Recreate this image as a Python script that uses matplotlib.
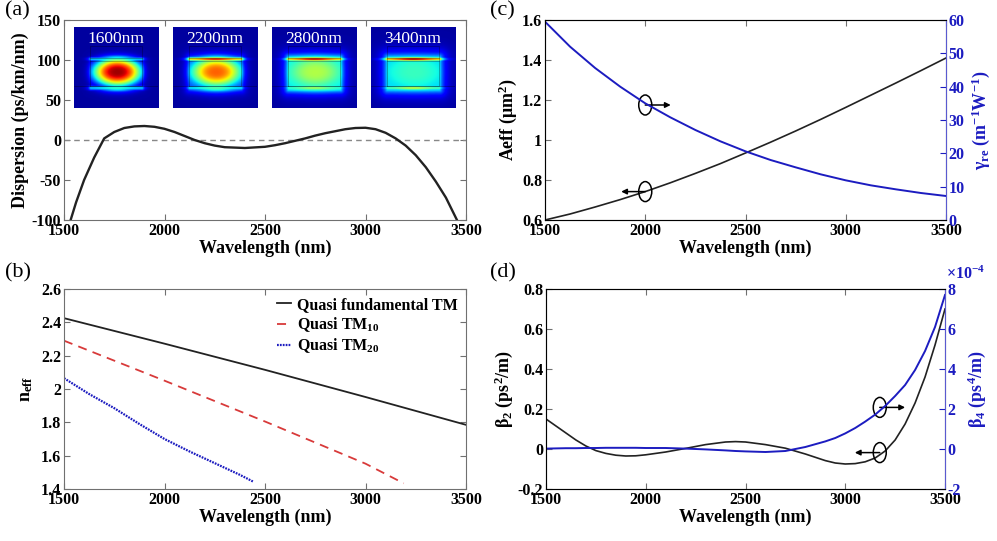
import numpy as np
import matplotlib.pyplot as plt
from matplotlib.patches import Ellipse

plt.rcParams['font.family'] = 'Liberation Serif'
plt.rcParams['font.weight'] = 'bold'
plt.rcParams['axes.labelweight'] = 'bold'
plt.rcParams['axes.unicode_minus'] = False
plt.rcParams['mathtext.fontset'] = 'custom'
plt.rcParams['mathtext.rm'] = 'Liberation Serif:bold'
plt.rcParams['mathtext.it'] = 'Liberation Serif:bold'
plt.rcParams['mathtext.bf'] = 'Liberation Serif:bold'

BLUE = '#1c1cc0'
BLACK = '#222222'
RED = '#d83a3a'
SPINE = '#707070'

# (a) dispersion
wl_a = [1533, 1560, 1600, 1650, 1700, 1750, 1800, 1850, 1900, 1950, 2000, 2050,
        2100, 2150, 2200, 2250, 2300, 2400, 2500, 2550, 2600, 2650, 2700, 2750,
        2800, 2850, 2900, 2950, 3000, 3050, 3100, 3150, 3200, 3250, 3300, 3350,
        3400, 3455]
disp = [-100, -78, -50, -22, 2, 10, 15, 17, 17.5, 16.5, 14, 10,
        5, 0, -4, -7, -9, -10, -8.5, -6.5, -4, -1, 2, 5.5,
        8.5, 11, 13.5, 15, 15.3, 13.5, 9, 2, -7, -19, -34, -52,
        -72, -100]

# mode profile insets
mode_labels = ['1600nm', '2200nm', '2800nm', '3400nm']
core_amp = [0.97, 0.80, 0.55, 0.40]
core_flat = [0.0, 0.2, 0.6, 0.8]
slot_amp = [0.42, 0.92, 0.97, 1.0]
sub_amp = [0.40, 0.45, 0.55, 0.58]
decay = [0.03, 0.04, 0.05, 0.06]

# (b) effective index
wl_b = [1500, 2000, 2500, 3000, 3500]
n_fund = [2.425, 2.272, 2.115, 1.952, 1.785]
wl_tm10 = [1500, 2000, 2500, 3000, 3190]
n_tm10 = [2.29, 2.05, 1.805, 1.552, 1.434]
wl_tm20 = [1500, 1625, 1750, 1875, 2000, 2125, 2250, 2375, 2440]
n_tm20 = [2.065, 1.97, 1.885, 1.79, 1.70, 1.625, 1.555, 1.485, 1.445]

# (c) effective area and nonlinear coefficient
wl_c = [1500, 1625, 1750, 1875, 2000, 2125, 2250, 2375, 2500, 2625, 2750,
        2875, 3000, 3125, 3250, 3375, 3500]
aeff = [0.6, 0.63, 0.665, 0.702, 0.742, 0.786, 0.833, 0.882, 0.935, 0.989,
        1.045, 1.103, 1.163, 1.224, 1.285, 1.347, 1.41]
gamma = [59.5, 52, 45.6, 40, 35, 30.8, 27, 23.6, 20.6, 18, 15.8,
         13.7, 11.9, 10.4, 9.2, 8.1, 7.2]

# (d) beta2 and beta4
wl_d = [1500, 1550, 1600, 1650, 1700, 1750, 1800, 1850, 1900, 1950, 2000,
        2100, 2200, 2300, 2400, 2450, 2500, 2600, 2700, 2800, 2900, 2950,
        3000, 3050, 3100, 3150, 3200, 3250, 3300, 3350, 3400, 3450, 3500]
beta2 = [0.15, 0.115, 0.08, 0.045, 0.015, -0.008, -0.022, -0.031, -0.035, -0.034, -0.029,
         -0.015, 0.003, 0.022, 0.035, 0.037, 0.035, 0.022, 0.004, -0.025, -0.058, -0.07,
         -0.075, -0.073, -0.064, -0.045, -0.01, 0.045, 0.125, 0.23, 0.36, 0.52, 0.70]
beta4 = [0.02, 0.03, 0.04, 0.04, 0.05, 0.05, 0.06, 0.06, 0.06, 0.06, 0.05,
         0.05, 0.02, -0.02, -0.07, -0.1, -0.12, -0.15, -0.1, 0.1, 0.38, 0.55,
         0.78, 1.05, 1.37, 1.72, 2.15, 2.65, 3.2, 3.95, 4.9, 6.1, 7.7]
beta4 = [b * 1e-4 for b in beta4]


def mode_field(i, n=120):
    x = np.linspace(0, 1, n)
    X, Y = np.meshgrid(x, x)
    bx0, bx1, by0, by1 = 0.19, 0.81, 0.38, 0.73
    Xc = np.clip(X, bx0, bx1)
    Yc = np.clip(Y, by0, by1)
    r2 = ((Xc - 0.51) / 0.28) ** 2 + ((Yc - 0.555) / 0.17) ** 2
    g = np.exp(-r2 ** 1.4)
    core = core_amp[i] * (core_flat[i] + (1 - core_flat[i]) * g)
    prof = 0.7 + 0.3 * np.exp(-((Xc - 0.5) / 0.2) ** 2)
    slot = slot_amp[i] * prof * np.exp(-((Y - 0.395) / 0.024) ** 2)
    sub = sub_amp[i] * prof * np.exp(-((Y - 0.755) / 0.03) ** 2)
    f = np.maximum(core, slot)
    f = np.maximum(f, sub)
    dx = np.abs(X - Xc)
    dy = np.abs(Y - np.clip(Y, 0.37, 0.78))
    f = f * np.exp(-np.sqrt(dx ** 2 + dy ** 2) / decay[i])
    return 0.03 + 0.97 * f


fig = plt.figure(figsize=(9.97, 5.41), dpi=100)
axa = fig.add_axes([64 / 997, 1 - 220 / 541, 402 / 997, 200 / 541])
axb = fig.add_axes([64 / 997, 1 - 489 / 541, 402 / 997, 200 / 541])
axc = fig.add_axes([545 / 997, 1 - 220 / 541, 401 / 997, 200 / 541])
axd = fig.add_axes([546 / 997, 1 - 489 / 541, 399 / 997, 200 / 541])

TICK = 11.5
LAB = 13


def style(ax, right=True):
    for s in ax.spines.values():
        s.set_color(SPINE)
        s.set_linewidth(0.8)
    ax.tick_params(direction='in', top=True, right=right, labelsize=TICK,
                   length=4, color=SPINE, pad=2)
    ax.set_xlim(1500, 3500)
    ax.set_xticks([1500, 2000, 2500, 3000, 3500])
    ax.set_xlabel('Wavelength (nm)', fontsize=LAB, labelpad=1)


# (a)
style(axa)
axa.axhline(0, color='#888888', lw=1, ls=(0, (4, 3)))
axa.plot(wl_a, disp, color=BLACK, lw=1.7)
axa.set_ylim(-100, 150)
axa.set_yticks([-100, -50, 0, 50, 100, 150])
axa.set_ylabel('Dispersion (ps/km/nm)', fontsize=LAB, labelpad=2)
for i, lab in enumerate(mode_labels):
    x0 = 1550 + i * 492
    ins = axa.inset_axes([x0, 40, 418, 101], transform=axa.transData)
    ins.imshow(mode_field(i), cmap='jet', vmin=0, vmax=1, extent=[0, 1, 1, 0],
               aspect='auto', interpolation='bilinear')
    ins.plot([0.19, 0.81, 0.81, 0.19, 0.19], [0.73, 0.73, 0.23, 0.23, 0.73],
             color='k', lw=0.4, alpha=0.5)
    ins.plot([0.19, 0.81], [0.375, 0.375], color='k', lw=0.4, alpha=0.5)
    ins.plot([0.19, 0.81], [0.415, 0.415], color='k', lw=0.4, alpha=0.5)
    ins.plot([0, 1], [0.73, 0.73], color='k', lw=0.4, alpha=0.5)
    ins.set_xlim(0, 1)
    ins.set_ylim(1, 0)
    ins.set_xticks([])
    ins.set_yticks([])
    for s in ins.spines.values():
        s.set_visible(False)
    ins.text(0.5, 0.86, lab, color='white', fontsize=12.5, fontweight='normal',
             ha='center', va='center', transform=ins.transAxes)

# (b)
style(axb)
axb.plot(wl_b, n_fund, color=BLACK, lw=1.3, label='Quasi fundamental TM')
axb.plot(wl_tm10, n_tm10, color=RED, lw=1.3, dashes=(5, 3.5), label='Quasi TM$_{10}$')
axb.plot(wl_tm20, n_tm20, color=BLUE, lw=1.6, dashes=(0.8, 0.5), label='Quasi TM$_{20}$')
axb.set_ylim(1.4, 2.6)
axb.set_yticks([1.4, 1.6, 1.8, 2.0, 2.2, 2.4, 2.6])
axb.set_yticklabels(['1.4', '1.6', '1.8', '2', '2.2', '2.4', '2.6'])
axb.set_ylabel('n$_{eff}$', fontsize=LAB, labelpad=4)
axb.legend(loc='upper right', frameon=False, fontsize=11.5, handlelength=0.9,
           handletextpad=0.4, labelspacing=0.15, borderaxespad=0.1,
           bbox_to_anchor=(1.0, 1.0))

# (c)
style(axc, right=False)
axc.plot(wl_c, aeff, color=BLACK, lw=1.2)
axc.set_ylim(0.6, 1.6)
axc.set_yticks([0.6, 0.8, 1.0, 1.2, 1.4, 1.6])
axc.set_yticklabels(['0.6', '0.8', '1', '1.2', '1.4', '1.6'])
axc.set_ylabel('Aeff (μm$^2$)', fontsize=LAB, labelpad=2)
axc2 = axc.twinx()
axc2.plot(wl_c, gamma, color=BLUE, lw=1.4)
axc2.set_ylim(0, 60)
axc2.set_yticks([0, 10, 20, 30, 40, 50, 60])
axc2.tick_params(direction='in', labelsize=TICK, colors=BLUE, length=4, pad=2)
axc2.spines['right'].set_color('#5a5ad0')
axc2.set_ylabel('γ$_{re}$ (m$^{-1}$W$^{-1}$)', fontsize=LAB, color=BLUE, labelpad=3)

# (d)
style(axd, right=False)
axd.plot(wl_d, beta2, color=BLACK, lw=1.2)
axd.set_ylim(-0.2, 0.8)
axd.set_yticks([-0.2, 0, 0.2, 0.4, 0.6, 0.8])
axd.set_yticklabels(['-0.2', '0', '0.2', '0.4', '0.6', '0.8'])
axd.set_ylabel('β$_2$ (ps$^2$/m)', fontsize=LAB, labelpad=2)
axd2 = axd.twinx()
axd2.plot(wl_d, beta4, color=BLUE, lw=1.4)
axd2.set_ylim(-2e-4, 8e-4)
axd2.set_yticks([-2e-4, 0, 2e-4, 4e-4, 6e-4, 8e-4])
axd2.set_yticklabels(['-2', '0', '2', '4', '6', '8'])
axd2.tick_params(direction='in', labelsize=TICK, colors=BLUE, length=4, pad=2)
axd2.spines['right'].set_color('#5a5ad0')
axd2.set_ylabel('β$_4$ (ps$^4$/m)', fontsize=LAB, color=BLUE, labelpad=3)
fig.text(946 / 997, 1 - 279 / 541, '×10$^{-4}$', color=BLUE, fontsize=11.5,
         ha='left', va='baseline')


# ellipses with arrows
def marker(ax, x, y, dx, h):
    ax.add_patch(Ellipse((x, y), 65, h, fill=False, ec='k', lw=1.1, zorder=5))
    ax.annotate('', xy=(x + dx, y), xytext=(x, y),
                arrowprops=dict(arrowstyle='-|>', color='k', lw=1.1,
                                mutation_scale=8, shrinkA=0, shrinkB=0))


marker(axc, 2000, 1.175, 127, 0.1)
marker(axc, 2000, 0.742, -120, 0.1)
marker(axd, 3173, 0.208, 127, 0.1)
marker(axd, 3173, -0.018, -125, 0.1)

# panel labels
for x, y, t in [(5, 1, '(a)'), (5, 263, '(b)'), (490, 1, '(c)'), (490, 263, '(d)')]:
    fig.text(x / 997, 1 - y / 541, t, fontsize=16, fontweight='normal',
             ha='left', va='top')

fig.savefig('out.png', dpi=100)
